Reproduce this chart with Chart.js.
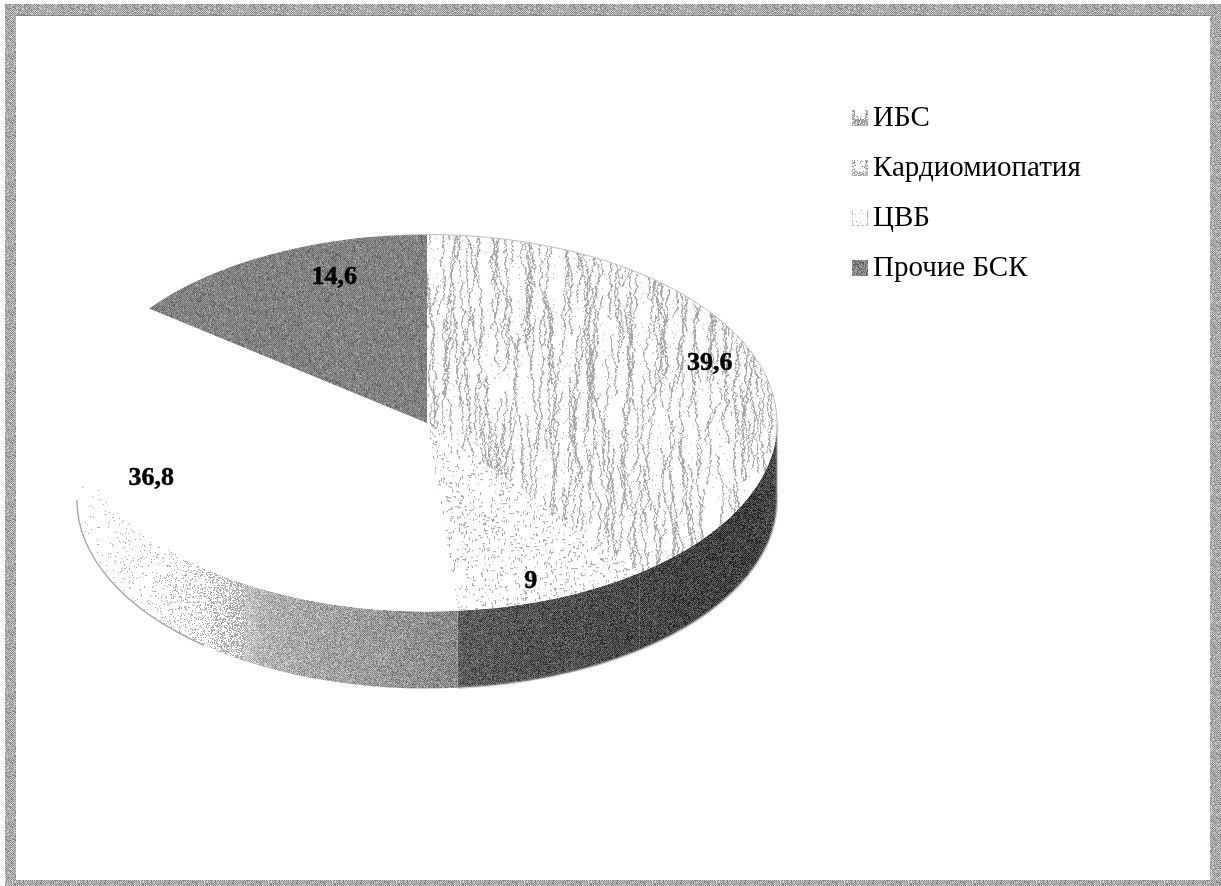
<!DOCTYPE html>
<html lang="ru">
<head>
<meta charset="utf-8">
<title>Структура БСК</title>
<script src="https://cdn.jsdelivr.net/npm/chart.js@4"></script>
<style>
    html, body { margin: 0; background: #fff; }
    canvas { display: block; }
</style>
</head>
<body>
<canvas id="pieChart" width="1221" height="886"></canvas>
<script>
const categories = ['ИБС', 'Кардиомиопатия', 'ЦВБ', 'Прочие БСК'];
const shares = [39.6, 9, 36.8, 14.6];

// pie is flattened into an ellipse, this is the vertical squeeze and the rim height
const tilt = 0.5386;
const rimDepth = 77;

// brightness of the rim along x, for each slice
const lightRim = [[78, 255], [150, 250], [200, 238], [230, 214], [262, 180], [300, 168], [400, 150], [458, 135]];
const darkRim = [[458, 94], [520, 84], [640, 72], [740, 64], [777, 70]];

// label offsets from the default anchor inside the slice
const labelShift = [[1, -8], [-4, 9], [-15, -22], [39, -2]];

function noiseSource(seed) {
    let s = seed;
    return function() {
        s = (s * 1664525 + 1013904223) % 4294967296;
        return s / 4294967296;
    };
}

function newTile(w, h) {
    const c = document.createElement('canvas');
    c.width = w;
    c.height = h;
    return c;
}

function wormTile() {
    const c = newTile(420, 420);
    const g = c.getContext('2d');
    const rnd = noiseSource(11);
    g.fillStyle = '#fff';
    g.fillRect(0, 0, 420, 420);
    g.fillStyle = '#a6a6a6';
    // columns keep the wavy lines evenly spread across the tile
    for (let i = 0; i < 300; i++) {
        let x = (i * 9.3 + rnd() * 6) % 420 | 0;
        const y0 = rnd() * 420 | 0;
        const len = 50 + rnd() * 110;
        for (let j = 0; j < len; j++) {
            const r = rnd();
            if (r < 0.2) x--;
            else if (r < 0.4) x++;
            if (rnd() > 0.08) g.fillRect((x + 420) % 420, (y0 + j) % 420, rnd() < 0.3 ? 2 : 1, 1);
        }
    }
    for (let i = 0; i < 2600; i++) {
        g.fillRect(rnd() * 420 | 0, rnd() * 420 | 0, 1, 1);
    }
    return c;
}

function stippleTile() {
    const c = newTile(300, 300);
    const g = c.getContext('2d');
    const rnd = noiseSource(23);
    g.fillStyle = '#fff';
    g.fillRect(0, 0, 300, 300);
    g.fillStyle = '#a6a6a6';
    for (let i = 0; i < 4600; i++) {
        const horizontal = rnd() < 0.5;
        const run = 1 + (rnd() * 3 | 0);
        g.fillRect(rnd() * 300 | 0, rnd() * 300 | 0, horizontal ? run : 1, horizontal ? 1 : run);
    }
    return c;
}

function grainTile(w, h, base, spread, seed) {
    const c = newTile(w, h);
    const g = c.getContext('2d');
    const img = g.createImageData(w, h);
    const rnd = noiseSource(seed);
    for (let y = 0; y < h; y++) {
        for (let x = 0; x < w; x++) {
            const up = ((x + y) & 1) ^ (rnd() < 0.15 ? 1 : 0);
            const v = base + (up ? spread : -spread);
            const k = (y * w + x) * 4;
            img.data[k] = img.data[k + 1] = img.data[k + 2] = v;
            img.data[k + 3] = 255;
        }
    }
    g.putImageData(img, 0, 0);
    return c;
}

function rimShade(stops, x) {
    if (x <= stops[0][0]) return stops[0][1];
    for (let i = 1; i < stops.length; i++) {
        if (x <= stops[i][0]) {
            const t = (x - stops[i - 1][0]) / (stops[i][0] - stops[i - 1][0]);
            return stops[i - 1][1] + (stops[i][1] - stops[i - 1][1]) * t;
        }
    }
    return stops[stops.length - 1][1];
}

// rim texture lives in page coordinates, it gets darker along x
function rimTile(stops, seed) {
    const w = 1221, h = 800;
    const c = newTile(w, h);
    const g = c.getContext('2d');
    const img = g.createImageData(w, h);
    const rnd = noiseSource(seed);
    for (let y = 0; y < h; y++) {
        for (let x = 0; x < w; x++) {
            const s = rimShade(stops, x);
            let v;
            if (s > 200) {
                v = rnd() < (255 - s) / 85 ? 170 : 255;
            } else {
                const up = ((x + y) & 1) ^ (rnd() < 0.2 ? 1 : 0);
                v = s + (up ? 28 : -28);
            }
            const k = (y * w + x) * 4;
            img.data[k] = img.data[k + 1] = img.data[k + 2] = v;
            img.data[k + 3] = 255;
        }
    }
    g.putImageData(img, 0, 0);
    return c;
}

// small legend swatch, density says how dark each row gets
// the tile is wider than the mark so the label can sit close to it
function swatch(density, tones, seed) {
    const c = newTile(20, 16);
    const g = c.getContext('2d');
    const rnd = noiseSource(seed);
    for (let y = 0; y < 16; y++) {
        for (let x = 0; x < 16; x++) {
            if (rnd() < density(x, y)) {
                g.fillStyle = rnd() < 0.4 ? tones[0] : tones[1];
                g.fillRect(x + 4, y, 1, 1);
            }
        }
    }
    return c;
}

const ctxMain = document.getElementById('pieChart').getContext('2d');

function flatPattern(tile) {
    const p = ctxMain.createPattern(tile, 'repeat');
    // undo the squeeze so the grain stays square
    p.setTransform(new DOMMatrix().scale(1, 1 / tilt));
    return p;
}

const faceFills = [
    flatPattern(wormTile()),
    flatPattern(stippleTile()),
    '#ffffff',
    flatPattern(grainTile(128, 128, 130, 28, 37))
];
const darkRimFill = ctxMain.createPattern(rimTile(darkRim, 41), 'repeat');
const lightRimFill = ctxMain.createPattern(rimTile(lightRim, 43), 'repeat');
const rimFills = [darkRimFill, darkRimFill, lightRimFill, lightRimFill];
const frameFill = ctxMain.createPattern(grainTile(64, 64, 170, 30, 53), 'repeat');

const markers = [
    swatch((x, y) => (y >= 9 ? 0.85 : Math.abs(x - 7.5) > 5 ? 0.7 : y > 5 ? 0.35 : 0.05), ['#8c8c8c', '#b4b4b4'], 61),
    swatch((x, y) => (y >= 11 ? 0.75 : Math.abs(x - 7.5) > 5 ? 0.55 : 0.12), ['#969696', '#bcbcbc'], 67),
    swatch((x, y) => (x < 1 || x > 14 || y > 14 ? 0.55 : 0.02), ['#a0a0a0', '#c0c0c0'], 71),
    swatch(() => 1, ['#5e5e5e', '#999999'], 73)
];

const framePlugin = {
    id: 'frame',
    beforeDraw(chart) {
        const ctx = chart.ctx;
        ctx.save();
        ctx.fillStyle = frameFill;
        ctx.fillRect(5, 4, 1216, 12);
        ctx.fillRect(5, 4, 11, 882);
        ctx.fillRect(1210, 4, 11, 882);
        ctx.fillRect(5, 880, 1216, 6);
        ctx.fillStyle = 'rgba(90, 90, 90, 0.45)';
        ctx.fillRect(16, 15, 1194, 1);
        ctx.restore();
    }
};

const pieDepthPlugin = {
    id: 'pieDepth',
    afterLayout(chart) {
        // legend sits in the free space to the right of the pie
        const legend = chart.legend;
        legend.left = 836.5;
        legend.top = 82.5;
        legend.right = 1200;
        legend.bottom = 330;
        legend.adjustHitBoxes();
    },
    beforeDatasetsDraw(chart) {
        const ctx = chart.ctx;
        const arcs = chart.getDatasetMeta(0).data;
        arcs.forEach((arc, i) => {
            const from = Math.max(arc.startAngle, 0);
            const to = Math.min(arc.endAngle, Math.PI);
            if (to <= from) return;
            const ry = arc.outerRadius * tilt;
            ctx.beginPath();
            ctx.ellipse(arc.x, arc.y + rimDepth, arc.outerRadius, ry, 0, from, to);
            ctx.ellipse(arc.x, arc.y, arc.outerRadius, ry, 0, to, from, true);
            ctx.closePath();
            ctx.fillStyle = rimFills[i];
            ctx.fill();
        });

        const light = arcs[2];
        const dark = arcs[1];
        const ry = light.outerRadius * tilt;
        // soft edge under the dark part of the rim
        ctx.beginPath();
        ctx.moveTo(light.x + light.outerRadius, light.y);
        ctx.ellipse(light.x, light.y + rimDepth, light.outerRadius, ry, 0, 0, dark.endAngle);
        ctx.strokeStyle = 'rgba(165, 165, 165, 0.5)';
        ctx.lineWidth = 2.5;
        ctx.stroke();
        // thin outline where the rim fades out on the left
        ctx.beginPath();
        ctx.ellipse(light.x, light.y + rimDepth, light.outerRadius, ry, 0, Math.PI * 0.72, Math.PI);
        ctx.strokeStyle = '#a8a8a8';
        ctx.lineWidth = 1.4;
        ctx.stroke();

        ctx.save();
        ctx.translate(light.x, light.y);
        ctx.scale(1, tilt);
        ctx.translate(-light.x, -light.y);
    },
    afterDatasetsDraw(chart) {
        const ctx = chart.ctx;
        ctx.restore();
        const arcs = chart.getDatasetMeta(0).data;

        // the patterned slice has a thin edge along its outer side
        const first = arcs[0];
        ctx.beginPath();
        ctx.ellipse(first.x, first.y, first.outerRadius, first.outerRadius * tilt, 0, first.startAngle, 0.1);
        ctx.strokeStyle = '#bdbdbd';
        ctx.lineWidth = 1;
        ctx.stroke();

        ctx.save();
        ctx.font = 'bold 26px "Liberation Serif"';
        ctx.fillStyle = '#000';
        ctx.strokeStyle = '#000';
        ctx.lineWidth = 0.5;
        ctx.textAlign = 'center';
        ctx.textBaseline = 'middle';
        arcs.forEach((arc, i) => {
            const mid = (arc.startAngle + arc.endAngle) / 2;
            const x = arc.x + Math.cos(mid) * arc.outerRadius * 0.85 + labelShift[i][0];
            const y = arc.y + Math.sin(mid) * arc.outerRadius * tilt * 0.85 + labelShift[i][1];
            const text = String(shares[i]).replace('.', ',');
            ctx.fillText(text, x, y);
            ctx.strokeText(text, x, y);
        });
        ctx.restore();
    }
};

new Chart(ctxMain, {
    type: 'pie',
    data: {
        labels: categories,
        datasets: [{
            data: shares,
            backgroundColor: faceFills,
            borderWidth: 0,
            clip: false
        }]
    },
    options: {
        responsive: false,
        animation: false,
        events: [],
        layout: {
            padding: { left: 77, right: 444, top: 73, bottom: 113 }
        },
        plugins: {
            tooltip: { enabled: false },
            legend: {
                position: 'chartArea',
                align: 'start',
                labels: {
                    usePointStyle: true,
                    pointStyleWidth: 1,
                    padding: 21,
                    color: '#000',
                    font: { family: '"Liberation Serif"', size: 29 },
                    generateLabels() {
                        return categories.map((text, i) => ({
                            text: text,
                            fillStyle: '#fff',
                            strokeStyle: '#fff',
                            lineWidth: 0,
                            pointStyle: markers[i],
                            hidden: false,
                            index: i
                        }));
                    }
                }
            }
        }
    },
    plugins: [framePlugin, pieDepthPlugin]
});
</script>
</body>
</html>
